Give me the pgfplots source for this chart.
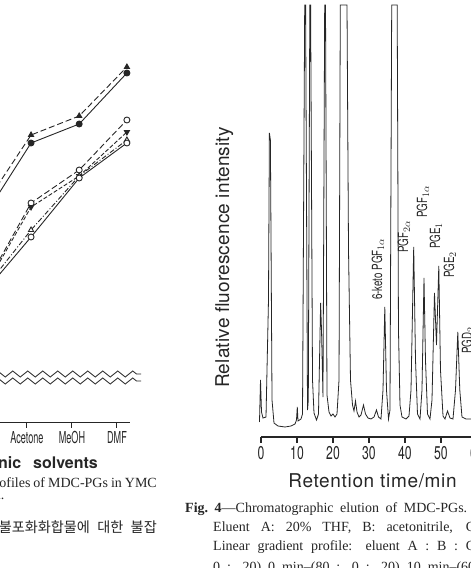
\documentclass[border=0pt]{standalone}
\usepackage{fontspec}
\usepackage{graphicx}
\setmainfont{Liberation Serif}
\newfontfamily\heros{TeX Gyre Heros}
\newfontfamily\herosR[LetterSpace=1]{TeX Gyre Heros}
\newfontfamily\herosL[LetterSpace=3.5]{TeX Gyre Heros}
\newfontfamily\narrowA[FakeStretch=0.55]{TeX Gyre Heros}
\newfontfamily\narrowB[FakeStretch=0.66]{TeX Gyre Heros}
\newfontfamily\narrowC[FakeStretch=0.7]{TeX Gyre Heros}
\newfontfamily\kr{Noto Sans CJK KR}
\usepackage{pgfplots}
\pgfplotsset{compat=1.18}
\usetikzlibrary{decorations.pathmorphing}
\definecolor{ink}{gray}{0.15}
\begin{document}
\begin{tikzpicture}[x=1pt,y=1pt]
\useasboundingbox (0,0) rectangle (471,568);
\clip (0,0) rectangle (471,568);
\fill[white] (0,0) rectangle (471,568);
% ---------------- left chart (partial) ----------------
\begin{axis}[
  at={(-63pt,145pt)}, anchor=south west, scale only axis,
  width=193.05pt, height=423pt,
  xmin=1, xmax=5.29, ymin=0, ymax=423,
  axis x line=bottom, axis y line=none,
  axis line style={-, line width=1pt, draw=ink},
  xtick={3,4,5}, xticklabels={Acetone,MeOH,DMF},
  ytick=\empty,
  tick align=outside, major tick length=5pt,
  tick style={line width=1pt, draw=ink},
  xticklabel style={font=\narrowA\fontsize{16.5}{18}\selectfont, text=ink},
  clip=false,
  every axis plot/.append style={line width=0.9pt, draw=ink, mark size=3pt},
]
\addplot[dash pattern=on 6pt off 3pt, mark=triangle*, mark options={solid, fill=ink}]
  coordinates {(2.0,214) (3.09,288) (4.16,307) (5.22,356)};
\addplot[solid, mark=*, mark options={solid, fill=ink}]
  coordinates {(2.0,203) (3.09,280) (4.16,299) (5.22,350)};
\addplot[dash pattern=on 6pt off 3pt, mark=*, mark options={solid, fill=white}]
  coordinates {(2.0,132) (3.09,220) (4.16,253) (5.22,303)};
\addplot[dash pattern=on 4pt off 2pt, mark=triangle*, mark options={solid, rotate=180, fill=ink}]
  coordinates {(2.0,130) (3.09,216) (4.16,247) (5.22,291)};
\addplot[dash pattern=on 5pt off 2pt on 1pt off 2pt, mark=triangle*, mark options={solid, fill=white}]
  coordinates {(2.0,131) (3.09,193) (4.16,247) (5.22,283)};
\addplot[solid, mark=*, mark options={solid, fill=white}]
  coordinates {(2.0,128) (3.09,186) (4.16,245) (5.22,280)};
\end{axis}
% axis break
\draw[ink, line width=0.8pt, decorate, decoration={zigzag, segment length=15pt, amplitude=3pt}] (-6,194) -- (141,194);
\draw[ink, line width=0.8pt, decorate, decoration={zigzag, segment length=15pt, amplitude=3pt}] (-6,187) -- (141,187);
% ---------------- right chart: chromatogram ----------------
\begin{axis}[
  at={(261pt,131pt)}, anchor=south west, scale only axis,
  width=234pt, height=437pt,
  xmin=0, xmax=65, ymin=0, ymax=437,
  axis x line=bottom, axis y line=none,
  axis line style={-, line width=1.1pt, draw=ink},
  xtick={0,10,...,60}, ytick=\empty,
  tick align=outside, major tick length=6pt,
  tick style={line width=1.1pt, draw=ink},
  xticklabel style={font=\narrowB\fontsize{18.5}{20}\selectfont, text=ink},
  /pgf/number format/assume math mode=true,
  clip=false,
]
\addplot[ink, line width=0.8pt, mark=none] coordinates {
(-0.42,15) (-0.14,57) (0.14,25) (0.56,19) (1.39,20) (2.08,137) (2.33,304) (2.61,297)
(3.06,37) (3.61,14) (4.72,11) (6.67,10) (8.33,11) (9.44,13) (9.86,17) (10.08,30)
(10.28,16) (11.11,18) (11.53,23) (12.14,432) (12.39,432) (12.92,27) (13.14,37)
(13.56,432) (13.78,432) (14.31,57) (14.72,24) (15.42,17) (15.97,23) (16.56,134)
(16.81,107) (17.22,40) (17.69,432) (17.92,432) (18.33,42) (18.89,25) (19.44,21)
(20.00,23) (20.56,20) (21.11,23) (21.67,57) (22.03,432) (23.89,432) (24.31,187)
(24.86,57) (25.42,32) (25.83,26) (26.25,36) (26.67,25) (27.22,20) (27.78,22)
(28.47,32) (29.03,23) (29.72,19) (30.56,18) (31.39,20) (32.08,27) (32.64,20)
(33.33,18) (33.89,47) (34.39,130) (34.86,47) (35.42,18) (35.83,27) (36.31,432)
(37.83,432) (38.19,107) (38.61,32) (39.17,20) (40.28,18) (41.11,21) (41.67,47)
(42.42,190) (42.92,77) (43.47,23) (44.17,18) (44.72,47) (45.28,159) (45.69,77)
(46.25,23) (46.94,18) (47.50,37) (48.19,144) (48.75,92) (49.39,171) (49.86,67)
(50.56,21) (51.11,18) (51.81,26) (52.50,19) (53.33,18) (54.03,47) (54.67,105)
(55.22,47) (55.83,20) (56.94,18) (58.33,18) (60.28,18)
};
\end{axis}
% peak labels
\begin{scope}[every node/.style={rotate=90, anchor=base west, inner sep=0, text=ink, font=\narrowC\fontsize{14}{16}\selectfont}]
\node at (382,268) {6-keto PGF$_{1\alpha}$};
\node at (408,315) {PGF$_{2\alpha}$};
\node at (427,350) {PGF$_{1\alpha}$};
\node at (440,319) {PGE$_{1}$};
\node at (454,290) {PGE$_{2}$};
\node at (472,214) {PGD$_{2}$};
\end{scope}
% axis titles
\node[rotate=90, anchor=base, inner sep=0, text=ink, font=\herosR\fontsize{19}{21}\selectfont] at (229,310.5) {Relative fluorescence intensity};
\node[anchor=base, inner sep=0, text=ink, font=\herosL\fontsize{19}{21}\selectfont] at (372.5,80) {Retention time/min};
\node[anchor=base east, inner sep=0, text=ink, font=\heros\bfseries\fontsize{16}{18}\selectfont] at (98,99) {Organic\hspace{12pt}solvents};
% captions
\node[anchor=base east, inner sep=0, text=ink, font=\fontsize{14}{16}\selectfont] at (157,80.5) {\spaceskip=3pt Fig.~3---Elution profiles of MDC-PGs in YMC};
\node[anchor=base east, inner sep=0, text=ink, font=\fontsize{14}{16}\selectfont] at (4.5,68) {column.};
\node[anchor=base east, inner sep=0, text=ink] at (157,35) {\resizebox{158pt}{!}{\kr\fontsize{13.5}{16}\selectfont 불포화화합물에\hspace{7pt}대한\hspace{7pt}불잡}};
\node[anchor=base west, inner sep=0, text=ink, font=\fontsize{14}{16}\selectfont] at (185,55.5) {\makebox[282pt][s]{\textbf{Fig.\ 4}---Chromatographic elution of MDC-PGs.}};
\node[anchor=base west, inner sep=0, text=ink, font=\fontsize{14}{16}\selectfont] at (213,36.5) {\makebox[262pt][s]{Eluent A: 20\% THF, B: acetonitrile, C}};
\node[anchor=base west, inner sep=0, text=ink, font=\fontsize{14}{16}\selectfont] at (213,17.5) {\makebox[262pt][s]{Linear gradient profile: eluent A : B : C}};
\node[anchor=base west, inner sep=0, text=ink, font=\fontsize{14}{16}\selectfont] at (213,-3) {\makebox[262pt][s]{0 : 20) 0 min--(80 : 0 : 20) 10 min--(60}};
\end{tikzpicture}
\end{document}
